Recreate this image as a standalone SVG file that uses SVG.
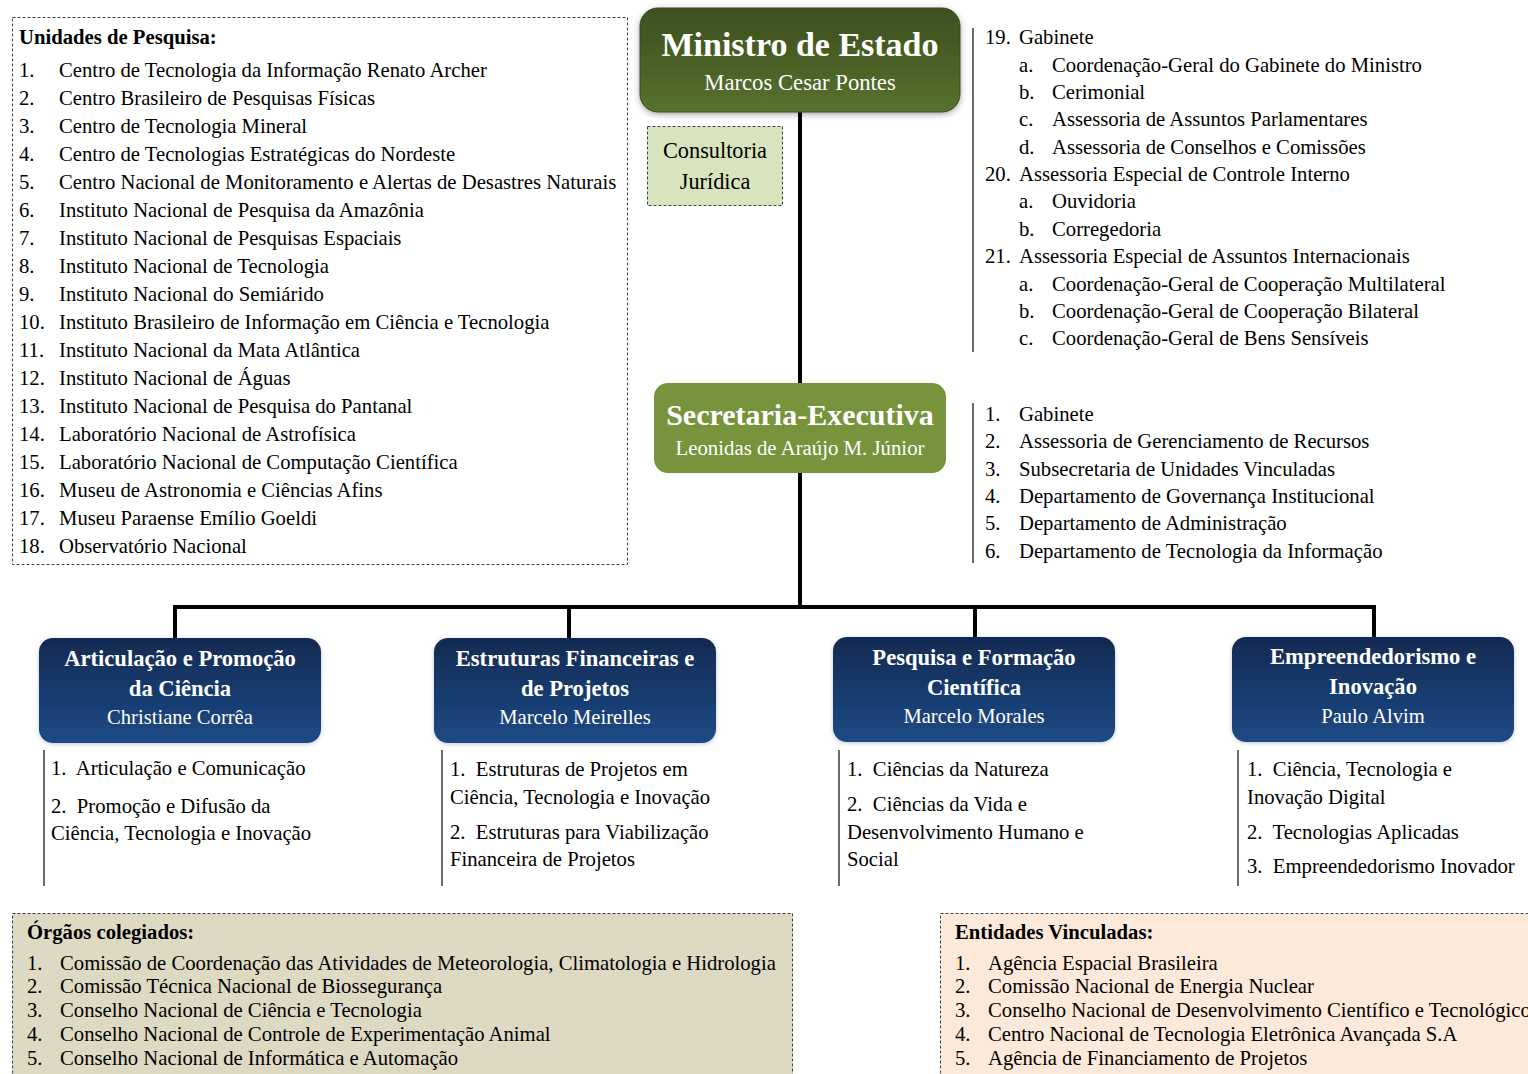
<svg xmlns="http://www.w3.org/2000/svg" width="1528" height="1074" viewBox="0 0 1528 1074">
<defs>
<linearGradient id="gMin" x1="0" y1="0" x2="0" y2="1">
<stop offset="0" stop-color="#3d501f"/>
<stop offset="0.5" stop-color="#495f25"/>
<stop offset="1" stop-color="#587230"/>
</linearGradient>
<linearGradient id="gBlue" x1="0" y1="0" x2="0" y2="1">
<stop offset="0" stop-color="#112a52"/>
<stop offset="1" stop-color="#1d4a86"/>
</linearGradient>
<filter id="sh" x="-10%" y="-20%" width="120%" height="140%">
<feGaussianBlur in="SourceAlpha" stdDeviation="3"/>
<feOffset dx="0" dy="2" result="b"/>
<feFlood flood-color="#000" flood-opacity="0.35"/>
<feComposite in2="b" operator="in"/>
<feMerge><feMergeNode/><feMergeNode in="SourceGraphic"/></feMerge>
</filter>
<filter id="sh2" x="-10%" y="-20%" width="120%" height="140%">
<feGaussianBlur in="SourceAlpha" stdDeviation="2"/>
<feOffset dx="0" dy="1" result="b"/>
<feFlood flood-color="#7f8fa6" flood-opacity="0.5"/>
<feComposite in2="b" operator="in"/>
<feMerge><feMergeNode/><feMergeNode in="SourceGraphic"/></feMerge>
</filter>
</defs>
<style>
text{font-family:"Liberation Serif","Times New Roman",serif;fill:#000}
.t{font-size:20.7px}
.b{font-weight:bold}
.w{fill:#fff}
.c{text-anchor:middle}
.dash{stroke:#404040;stroke-width:1;stroke-dasharray:3,2}
.vl{stroke:#3a3a3a;stroke-width:1.5}
.con{stroke:#000;stroke-width:4;fill:none}
.bt{font-size:22.6px;font-weight:bold;fill:#fff;text-anchor:middle}
.bn{font-size:20.6px;fill:#fff;text-anchor:middle}
</style>

<g id="connectors">
<line class="con" x1="800" y1="110" x2="800" y2="385"/>
<line class="con" x1="800" y1="472" x2="800" y2="607"/>
<polyline class="con" points="175,640 175,607 1374,607 1374,640"/>
<line class="con" x1="569" y1="607" x2="569" y2="640"/>
<line class="con" x1="975" y1="607" x2="975" y2="639"/>
</g>

<g id="unidades">
<rect x="12.5" y="17.5" width="615" height="547" fill="#fff" class="dash"/>
<text class="t b" x="19" y="44">Unidades de Pesquisa:</text>
<g class="t">
<text x="19" y="77">1.</text><text x="59" y="77">Centro de Tecnologia da Informação Renato Archer</text>
<text x="19" y="105">2.</text><text x="59" y="105">Centro Brasileiro de Pesquisas Físicas</text>
<text x="19" y="133">3.</text><text x="59" y="133">Centro de Tecnologia Mineral</text>
<text x="19" y="161">4.</text><text x="59" y="161">Centro de Tecnologias Estratégicas do Nordeste</text>
<text x="19" y="189">5.</text><text x="59" y="189">Centro Nacional de Monitoramento e Alertas de Desastres Naturais</text>
<text x="19" y="217">6.</text><text x="59" y="217">Instituto Nacional de Pesquisa da Amazônia</text>
<text x="19" y="245">7.</text><text x="59" y="245">Instituto Nacional de Pesquisas Espaciais</text>
<text x="19" y="273">8.</text><text x="59" y="273">Instituto Nacional de Tecnologia</text>
<text x="19" y="301">9.</text><text x="59" y="301">Instituto Nacional do Semiárido</text>
<text x="19" y="329">10.</text><text x="59" y="329">Instituto Brasileiro de Informação em Ciência e Tecnologia</text>
<text x="19" y="357">11.</text><text x="59" y="357">Instituto Nacional da Mata Atlântica</text>
<text x="19" y="385">12.</text><text x="59" y="385">Instituto Nacional de Águas</text>
<text x="19" y="413">13.</text><text x="59" y="413">Instituto Nacional de Pesquisa do Pantanal</text>
<text x="19" y="441">14.</text><text x="59" y="441">Laboratório Nacional de Astrofísica</text>
<text x="19" y="469">15.</text><text x="59" y="469">Laboratório Nacional de Computação Científica</text>
<text x="19" y="497">16.</text><text x="59" y="497">Museu de Astronomia e Ciências Afins</text>
<text x="19" y="525">17.</text><text x="59" y="525">Museu Paraense Emílio Goeldi</text>
<text x="19" y="553">18.</text><text x="59" y="553">Observatório Nacional</text>
</g>
</g>

<g id="ministro">
<rect x="640" y="8" width="320" height="104" rx="18" fill="url(#gMin)" filter="url(#sh)" stroke="#3a4a1e" stroke-width="1"/>
<text class="b w c" x="800" y="56" font-size="34">Ministro de Estado</text>
<text class="w c" x="800" y="90" font-size="22.7">Marcos Cesar Pontes</text>
</g>

<g id="consultoria">
<rect x="647.5" y="126.5" width="135" height="79" fill="#d7e4bd" class="dash"/>
<text class="c" x="715" y="158" font-size="22.3">Consultoria</text>
<text class="c" x="715" y="189" font-size="22.3">Jurídica</text>
</g>

<g id="gabinete-list">
<line class="vl" x1="973" y1="28" x2="973" y2="352"/>
<g class="t">
<text x="985" y="44">19.</text><text x="1019" y="44">Gabinete</text>
<text x="1019" y="72">a.</text><text x="1052" y="72">Coordenação-Geral do Gabinete do Ministro</text>
<text x="1019" y="99">b.</text><text x="1052" y="99">Cerimonial</text>
<text x="1019" y="126">c.</text><text x="1052" y="126">Assessoria de Assuntos Parlamentares</text>
<text x="1019" y="154">d.</text><text x="1052" y="154">Assessoria de Conselhos e Comissões</text>
<text x="985" y="181">20.</text><text x="1019" y="181">Assessoria Especial de Controle Interno</text>
<text x="1019" y="208">a.</text><text x="1052" y="208">Ouvidoria</text>
<text x="1019" y="236">b.</text><text x="1052" y="236">Corregedoria</text>
<text x="985" y="263">21.</text><text x="1019" y="263">Assessoria Especial de Assuntos Internacionais</text>
<text x="1019" y="291">a.</text><text x="1052" y="291">Coordenação-Geral de Cooperação Multilateral</text>
<text x="1019" y="318">b.</text><text x="1052" y="318">Coordenação-Geral de Cooperação Bilateral</text>
<text x="1019" y="345">c.</text><text x="1052" y="345">Coordenação-Geral de Bens Sensíveis</text>
</g>
</g>

<g id="secretaria">
<rect x="654" y="383" width="292" height="90" rx="14" fill="#77933c"/>
<text class="b w c" x="800" y="425" font-size="30">Secretaria-Executiva</text>
<text class="w c" x="800" y="455" font-size="20.8">Leonidas de Araújo M. Júnior</text>
</g>

<g id="secretaria-list">
<line class="vl" x1="973" y1="403" x2="973" y2="563"/>
<g class="t">
<text x="985" y="421">1.</text><text x="1019" y="421">Gabinete</text>
<text x="985" y="448">2.</text><text x="1019" y="448">Assessoria de Gerenciamento de Recursos</text>
<text x="985" y="476">3.</text><text x="1019" y="476">Subsecretaria de Unidades Vinculadas</text>
<text x="985" y="503">4.</text><text x="1019" y="503">Departamento de Governança Institucional</text>
<text x="985" y="530">5.</text><text x="1019" y="530">Departamento de Administração</text>
<text x="985" y="558">6.</text><text x="1019" y="558">Departamento de Tecnologia da Informação</text>
</g>
</g>

<g id="articulacao">
<rect x="39" y="638" width="282" height="105" rx="14" fill="url(#gBlue)" filter="url(#sh2)"/>
<text class="bt" x="180" y="666">Articulação e Promoção</text>
<text class="bt" x="180" y="696">da Ciência</text>
<text class="bn" x="180" y="724">Christiane Corrêa</text>
<line class="vl" x1="44" y1="750" x2="44" y2="886"/>
<g class="t">
<text x="51" y="775" xml:space="preserve">1.  Articulação e Comunicação</text>
<text x="51" y="813" xml:space="preserve">2.  Promoção e Difusão da</text>
<text x="51" y="840">Ciência, Tecnologia e Inovação</text>
</g>
</g>

<g id="estruturas">
<rect x="434" y="638" width="282" height="105" rx="14" fill="url(#gBlue)" filter="url(#sh2)"/>
<text class="bt" x="575" y="666">Estruturas Financeiras e</text>
<text class="bt" x="575" y="696">de Projetos</text>
<text class="bn" x="575" y="724">Marcelo Meirelles</text>
<line class="vl" x1="442" y1="750" x2="442" y2="886"/>
<g class="t">
<text x="450" y="776" xml:space="preserve">1.  Estruturas de Projetos em</text>
<text x="450" y="804">Ciência, Tecnologia e Inovação</text>
<text x="450" y="839" xml:space="preserve">2.  Estruturas para Viabilização</text>
<text x="450" y="866">Financeira de Projetos</text>
</g>
</g>

<g id="pesquisa">
<rect x="833" y="637" width="282" height="105" rx="14" fill="url(#gBlue)" filter="url(#sh2)"/>
<text class="bt" x="974" y="665">Pesquisa e Formação</text>
<text class="bt" x="974" y="695">Científica</text>
<text class="bn" x="974" y="723">Marcelo Morales</text>
<line class="vl" x1="839" y1="750" x2="839" y2="886"/>
<g class="t">
<text x="847" y="776" xml:space="preserve">1.  Ciências da Natureza</text>
<text x="847" y="811" xml:space="preserve">2.  Ciências da Vida e</text>
<text x="847" y="839">Desenvolvimento Humano e</text>
<text x="847" y="866">Social</text>
</g>
</g>

<g id="empreendedorismo">
<rect x="1232" y="637" width="282" height="105" rx="14" fill="url(#gBlue)" filter="url(#sh2)"/>
<text class="bt" x="1373" y="664">Empreendedorismo e</text>
<text class="bt" x="1373" y="694">Inovação</text>
<text class="bn" x="1373" y="723">Paulo Alvim</text>
<line class="vl" x1="1238" y1="750" x2="1238" y2="886"/>
<g class="t">
<text x="1247" y="776" xml:space="preserve">1.  Ciência, Tecnologia e</text>
<text x="1247" y="804">Inovação Digital</text>
<text x="1247" y="839" xml:space="preserve">2.  Tecnologias Aplicadas</text>
<text x="1247" y="873" xml:space="preserve">3.  Empreendedorismo Inovador</text>
</g>
</g>

<g id="orgaos">
<rect x="12.5" y="913.5" width="780" height="170" fill="#ddd9c3" class="dash"/>
<text class="t b" x="27" y="939">Órgãos colegiados:</text>
<g class="t">
<text x="27" y="970">1.</text><text x="60" y="970">Comissão de Coordenação das Atividades de Meteorologia, Climatologia e Hidrologia</text>
<text x="27" y="993">2.</text><text x="60" y="993">Comissão Técnica Nacional de Biossegurança</text>
<text x="27" y="1017">3.</text><text x="60" y="1017">Conselho Nacional de Ciência e Tecnologia</text>
<text x="27" y="1041">4.</text><text x="60" y="1041">Conselho Nacional de Controle de Experimentação Animal</text>
<text x="27" y="1065">5.</text><text x="60" y="1065">Conselho Nacional de Informática e Automação</text>
</g>
</g>

<g id="entidades">
<rect x="940.5" y="913.5" width="600" height="170" fill="#fde9d9" class="dash"/>
<text class="t b" x="955" y="939">Entidades Vinculadas:</text>
<g class="t">
<text x="955" y="970">1.</text><text x="988" y="970">Agência Espacial Brasileira</text>
<text x="955" y="993">2.</text><text x="988" y="993">Comissão Nacional de Energia Nuclear</text>
<text x="955" y="1017">3.</text><text x="988" y="1017">Conselho Nacional de Desenvolvimento Científico e Tecnológico</text>
<text x="955" y="1041">4.</text><text x="988" y="1041">Centro Nacional de Tecnologia Eletrônica Avançada S.A</text>
<text x="955" y="1065">5.</text><text x="988" y="1065">Agência de Financiamento de Projetos</text>
</g>
</g>
</svg>
